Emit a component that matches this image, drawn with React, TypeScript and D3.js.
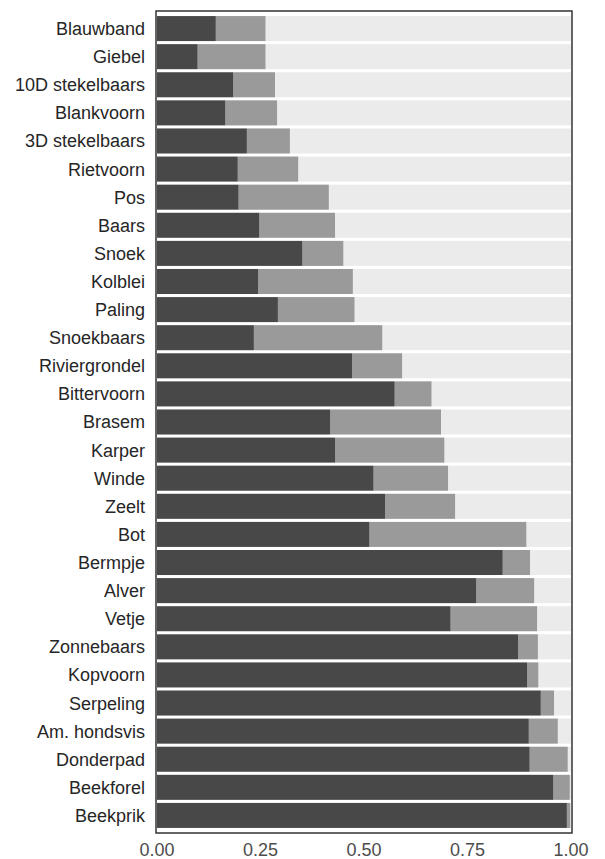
import React from "react";
import * as d3 from "d3";

const species = [
  "Blauwband", "Giebel", "10D stekelbaars", "Blankvoorn", "3D stekelbaars", "Rietvoorn", "Pos",
  "Baars", "Snoek", "Kolblei", "Paling", "Snoekbaars", "Riviergrondel", "Bittervoorn", "Brasem",
  "Karper", "Winde", "Zeelt", "Bot", "Bermpje", "Alver", "Vetje", "Zonnebaars", "Kopvoorn",
  "Serpeling", "Am. hondsvis", "Donderpad", "Beekforel", "Beekprik",
];

// first (dark) share
const darkShare = [
  0.142, 0.098, 0.184, 0.165, 0.217, 0.195, 0.197,
  0.247, 0.351, 0.244, 0.292, 0.234, 0.471, 0.574, 0.418,
  0.430, 0.523, 0.551, 0.513, 0.835, 0.771, 0.709, 0.872, 0.894,
  0.927, 0.898, 0.900, 0.957, 0.990,
];

// second (mid grey) share
const midShare = [
  0.120, 0.164, 0.101, 0.125, 0.104, 0.146, 0.218,
  0.183, 0.099, 0.229, 0.185, 0.310, 0.121, 0.089, 0.268,
  0.264, 0.180, 0.169, 0.379, 0.066, 0.140, 0.209, 0.048, 0.027,
  0.032, 0.070, 0.092, 0.040, 0.008,
];

const xTicks = [0, 0.25, 0.5, 0.75, 1];

const W = 605;
const H = 859;
const panel = { left: 156, right: 572, top: 11, bottom: 833 };

export default function App() {
  const x = d3.scaleLinear().domain([0, 1]).range([157, 571]);
  const y = d3
    .scaleBand<string>()
    .domain(species)
    .range([panel.top, panel.bottom])
    .paddingInner(0.11)
    .paddingOuter(0.18);
  const bw = y.bandwidth();
  const font = "'Liberation Sans', Arial, Helvetica, sans-serif";

  return (
    <svg
      width={W}
      height={H}
      style={{ position: "absolute", left: 0, top: 0, background: "#fff" }}
    >
      <rect x={0} y={0} width={W} height={H} fill="#fff" />
      {species.map((s, i) => {
        const yy = y(s)!;
        const d = darkShare[i];
        const m = midShare[i];
        return (
          <g key={s}>
            <rect x={x(0)} y={yy} width={x(1) - x(0)} height={bw} fill="#ebebeb" />
            <rect x={x(d)} y={yy} width={x(d + m) - x(d)} height={bw} fill="#9a9a9a" />
            <rect x={x(0)} y={yy} width={x(d) - x(0)} height={bw} fill="#484848" />
            <text
              x={145}
              y={yy + bw / 2}
              dy="0.36em"
              textAnchor="end"
              fontFamily={font}
              fontSize={18}
              fill="#262626"
            >
              {s}
            </text>
          </g>
        );
      })}
      <rect
        x={panel.left}
        y={panel.top}
        width={panel.right - panel.left}
        height={panel.bottom - panel.top}
        fill="none"
        stroke="#333"
        strokeWidth={1.5}
      />
      {xTicks.map((t) => (
        <text
          key={t}
          x={x(t)}
          y={856}
          textAnchor="middle"
          fontFamily={font}
          fontSize={18}
          fill="#4d4d4d"
        >
          {d3.format(".2f")(t)}
        </text>
      ))}
    </svg>
  );
}
